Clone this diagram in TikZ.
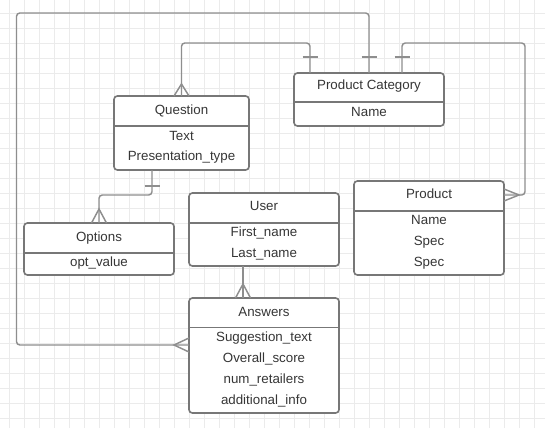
\documentclass[tikz,border=0pt]{standalone}
\usepackage{fontspec}
\setmainfont{Liberation Sans}
\usetikzlibrary{calc}
\definecolor{gridc}{HTML}{EBEBEB}
\definecolor{boxc}{HTML}{777777}
\definecolor{linec}{HTML}{8E8E8E}
\definecolor{txtc}{HTML}{363636}
\tikzset{
  ebox/.style={draw=boxc, line width=1.2pt, rounded corners=2.5pt, fill=white, inner sep=0pt, outer sep=0pt, anchor=north west},
  divline/.style={draw=boxc, line width=1.1pt},
  lbl/.style={text=txtc, font=\fontsize{10}{12}\selectfont, inner sep=0pt, anchor=base},
  conn/.style={draw=linec, line width=1.1pt, rounded corners=2.5pt},
  tickbar/.style={draw=linec, line width=1.1pt},
  gridline/.style={draw=gridc, line width=0.7pt}
}
\begin{document}
\begin{tikzpicture}[x=0.75pt,y=-0.75pt]
\fill[white] (0,0) rectangle (545,428);
\useasboundingbox (0,0) rectangle (545,428);
% grid
\foreach \gx in {9.5,24.5,...,545} \draw[gridline] (\gx,0) -- (\gx,428);
\foreach \gy in {13.3,28.3,...,428} \draw[gridline] (0,\gy) -- (545,\gy);

% entity boxes
\node[ebox, minimum width=112.5pt, minimum height=39.75pt] (pc) at (294,73) {};
\node[ebox, minimum width=101.25pt, minimum height=55.5pt] (q) at (114,96) {};
\node[ebox, minimum width=112.5pt, minimum height=39pt] (o) at (24,223) {};
\node[ebox, minimum width=112.5pt, minimum height=70.5pt] (p) at (354,181) {};
\node[ebox, minimum width=112.5pt, minimum height=54.75pt] (u) at (189,193) {};
\node[ebox, minimum width=112.5pt, minimum height=86.25pt] (a) at (189,298) {};

% connectors
% Product Category -> Question
\draw[conn] ($(pc.north west)+(16,0)$) |- (181.5,43) -- (q.north);
\draw[tickbar] ($(pc.north west)+(8.5,-16)$) -- ($(pc.north west)+(23.5,-16)$);
\draw[conn, rounded corners=0pt] ($(q.north)+(-7.5,0)$) -- ($(q.north)+(0,-12)$) -- ($(q.north)+(7.5,0)$);
% Product Category -> Answers
\draw[conn] ($(pc.north west)+(75,0)$) |- (16.5,13) |- ($(a.north west)+(0,47)$);
\draw[tickbar] ($(pc.north west)+(67.5,-16)$) -- ($(pc.north west)+(82.5,-16)$);
\draw[conn, rounded corners=0pt] ($(a.north west)+(0,40)$) -- ($(a.north west)+(-15,47)$) -- ($(a.north west)+(0,54)$);
% Product Category -> Product
\draw[conn] ($(pc.north west)+(108,0)$) |- (525,43) |- ($(p.north east)+(0,14)$);
\draw[tickbar] ($(pc.north west)+(100.5,-16)$) -- ($(pc.north west)+(115.5,-16)$);
\draw[conn, rounded corners=0pt] ($(p.north east)+(0,8)$) -- ($(p.north east)+(15,14)$) -- ($(p.north east)+(0,20)$);
% Question -> Options
\draw[conn] ($(q.south west)+(38,0)$) |- ($(o.north)+(0,-28)$) -- (o.north);
\draw[tickbar] ($(q.south west)+(30.5,16)$) -- ($(q.south west)+(45.5,16)$);
\draw[conn, rounded corners=0pt] ($(o.north)+(-7.5,0)$) -- ($(o.north)+(0,-14)$) -- ($(o.north)+(7.5,0)$);
% User -> Answers
\draw[conn] ($(u.south west)+(54,0)$) -- ($(a.north west)+(54,0)$);
\draw[conn, rounded corners=0pt] ($(a.north west)+(46.5,0)$) -- ($(a.north west)+(54,-14)$) -- ($(a.north west)+(61.5,0)$);

% dividers
\draw[divline] ($(pc.north west)+(0,29)$) -- ($(pc.north east)+(0,29)$);
\draw[divline] ($(q.north west)+(0,30)$) -- ($(q.north east)+(0,30)$);
\draw[divline] ($(o.north west)+(0,30)$) -- ($(o.north east)+(0,30)$);
\draw[divline] ($(p.north west)+(0,30)$) -- ($(p.north east)+(0,30)$);
\draw[divline] ($(u.north west)+(0,30)$) -- ($(u.north east)+(0,30)$);
\draw[divline] ($(a.north west)+(0,29.5)$) -- ($(a.north east)+(0,29.5)$);

% texts
\node[lbl] (pct) at (369,89.5) {Product Category};
\node[lbl] (pcn) at (369,116.2) {Name};
\node[lbl] (qt) at (181.5,114.5) {Question};
\node[lbl] (qa1) at (181.5,140.2) {Text};
\node[lbl] (qa2) at (181.5,160.2) {Presentation\_type};
\node[lbl] (ot) at (99,241.2) {Options};
\node[lbl] (oa1) at (99,266.5) {opt\_value};
\node[lbl] (pt) at (429,198.8) {Product};
\node[lbl] (pa1) at (429,224.5) {Name};
\node[lbl] (pa2) at (429,245.5) {Spec};
\node[lbl] (pa3) at (429,266.5) {Spec};
\node[lbl] (ut) at (264,210.5) {User};
\node[lbl] (ua1) at (264,236.2) {First\_name};
\node[lbl] (ua2) at (264,257.2) {Last\_name};
\node[lbl] (at) at (264,316.2) {Answers};
\node[lbl] (aa1) at (264,341.5) {Suggestion\_text};
\node[lbl] (aa2) at (264,362.5) {Overall\_score};
\node[lbl] (aa3) at (264,383.2) {num\_retailers};
\node[lbl] (aa4) at (264,404.2) {additional\_info};
\end{tikzpicture}
\end{document}
